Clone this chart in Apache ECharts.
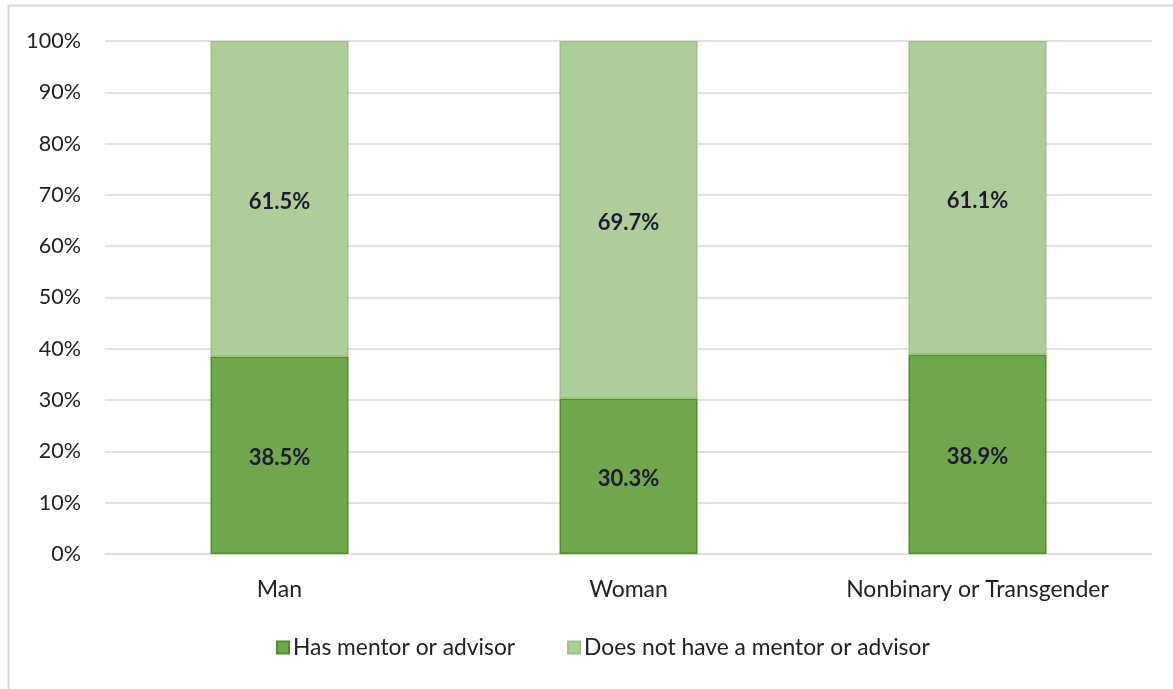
<!DOCTYPE html>
<html><head><meta charset="utf-8">
<script src="https://cdn.jsdelivr.net/npm/echarts@6/dist/echarts.min.js"></script>
<style>html,body{margin:0;padding:0;background:#fff}#c{width:1173px;height:689px;}</style>
</head><body><div id="c"></div>
<script>
const categories = ['Man', 'Woman', 'Nonbinary or Transgender'];
const hasMentor = [38.5, 30.3, 38.9];
const noMentor = [61.5, 69.7, 61.1];
const seriesNames = ['Has mentor or advisor', 'Does not have a mentor or advisor'];

const chart = echarts.init(document.getElementById('c'));
const font = 'Lato, "Open Sans", sans-serif';
const labelStyle = {show: true, position: 'inside', offset: [0, 3], formatter: p => p.value.toFixed(1) + '%', fontFamily: font, fontWeight: 'bold', fontSize: 22, color: '#1f1a33'};
chart.setOption({
  animation: false,
  graphic: [{type: 'rect', shape: {x: 8.5, y: 5.5, width: 1180, height: 700}, style: {fill: 'none', stroke: '#d9d9d9', lineWidth: 2}}],
  grid: {left: 105, right: 21, top: 41, bottom: 135},
  legend: {
    bottom: 25, left: 271, itemWidth: 12, itemHeight: 12, itemGap: 52,
    textStyle: {fontFamily: font, fontSize: 22.8, color: '#222', padding: [0, 0, 0, -1]},
    data: seriesNames.map(n => ({name: n, icon: 'rect'}))
  },
  xAxis: {
    type: 'category', data: categories,
    axisLine: {lineStyle: {color: '#d9d9d9', width: 1}},
    axisTick: {show: false},
    axisLabel: {fontFamily: font, fontSize: 23, color: '#222', margin: 24}
  },
  yAxis: {
    type: 'value', min: 0, max: 100, interval: 10,
    axisLabel: {formatter: '{value}%', fontFamily: font, fontSize: 21.5, color: '#222', margin: 24},
    splitLine: {lineStyle: {color: '#d9d9d9', width: 1.5}},
    axisLine: {show: false}, axisTick: {show: false}
  },
  series: [
    {name: seriesNames[0], type: 'bar', stack: 's', data: hasMentor, barWidth: 138,
     itemStyle: {color: '#70a64c', borderColor: '#4f8f2a', borderWidth: 1.5}, label: labelStyle},
    {name: seriesNames[1], type: 'bar', stack: 's', data: noMentor, barWidth: 138,
     itemStyle: {color: '#afcd9b', borderColor: '#9cc386', borderWidth: 1.5}, label: labelStyle}
  ]
});
</script></body></html>
